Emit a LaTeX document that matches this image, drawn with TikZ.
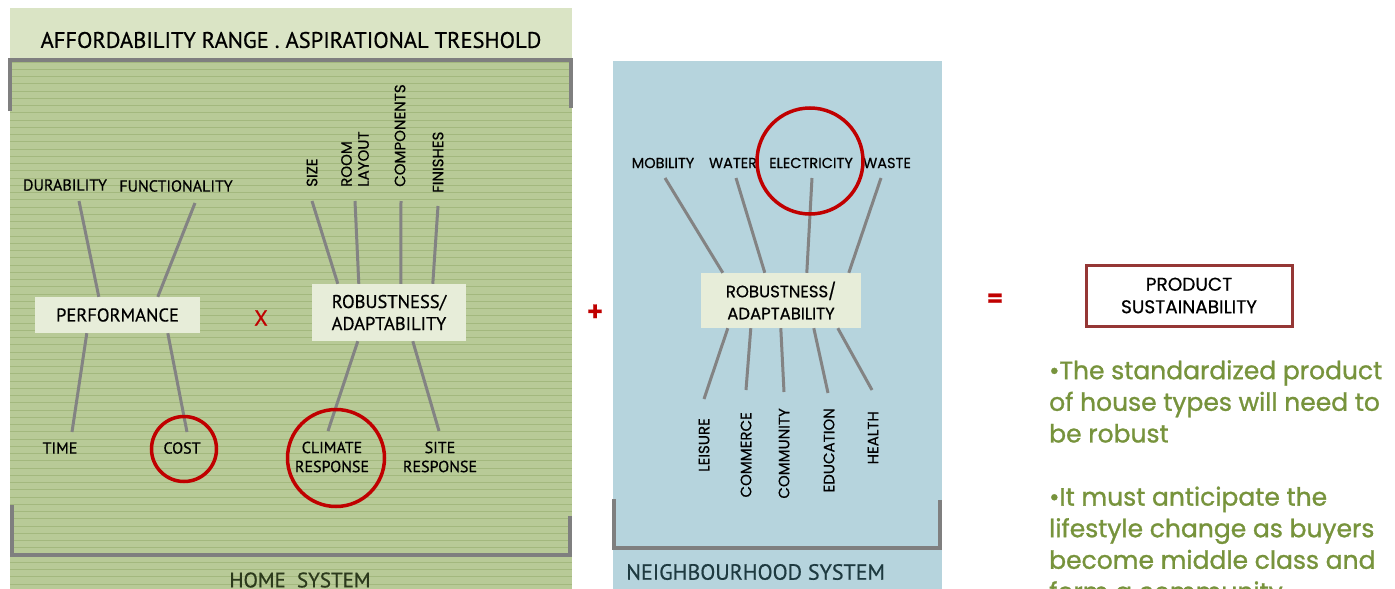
\documentclass[tikz,border=0pt]{standalone}
\usepackage{fontspec}
\setmainfont{PT Sans}[FakeBold=0.6]
\newfontfamily\geo{Poppins}[FakeBold=0.5]
\newfontfamily\geobold{Poppins}[FakeBold=1.1]
\usetikzlibrary{calc}
\definecolor{panelgreen}{HTML}{B8CA97}
\definecolor{headgreen}{HTML}{DAE4C5}
\definecolor{stripegreen}{HTML}{A3B87E}
\definecolor{boxfill}{HTML}{E7EDD9}
\definecolor{panelblue}{HTML}{B6D4DD}
\definecolor{bracketgray}{HTML}{7F7F7F}
\definecolor{linkgray}{HTML}{838383}
\definecolor{ringred}{HTML}{C00000}
\definecolor{noteolive}{HTML}{77933C}
\definecolor{prodborder}{HTML}{953735}
\definecolor{homeink}{HTML}{2C3A1C}
\definecolor{hoodink}{HTML}{1E3A40}
\begin{document}
\begin{tikzpicture}[x=1pt,y=-1pt,
  link/.style={draw=linkgray,line width=3pt},
  bracket/.style={draw=bracketgray,line width=4pt},
  ring/.style={draw=ringred,line width=3.5pt,circle,inner sep=0pt},
  lbl/.style={font=\fontsize{16}{16.5}\selectfont,inner sep=0pt,align=center},
  glbl/.style={font=\geo\fontsize{14.5}{15}\selectfont,inner sep=0pt},
  vlbl/.style={font=\geo\fontsize{15}{17}\selectfont,inner sep=0pt,rotate=90,align=left},
  factor/.style={fill=boxfill,inner sep=0pt,align=center},
  op/.style={text=ringred,inner sep=0pt,font=\fontsize{22}{22}\selectfont},
  bigop/.style={text=ringred,inner sep=0pt,font=\bfseries\fontsize{30}{30}\selectfont}
]
\useasboundingbox (0,0) rectangle (1395,589);

% panels
\fill[panelgreen] (10,58) rectangle (572,589);
\fill[headgreen] (10,8) rectangle (572,58);
\foreach \k in {0,...,72}
  \draw[stripegreen,line width=0.7pt] (10,{62+7.25*\k}) -- (572,{62+7.25*\k});
\fill[panelblue] (613,61) rectangle (942,589);

% brackets
\draw[bracket] (10,111) -- (10,60) -- (571,60) -- (571,108);
\draw[bracket] (12,505) -- (12,555) -- (570,555) -- (570,516);
\draw[bracket] (614,499) -- (614,548) -- (940,548) -- (940,500);

% titles
\node[inner sep=0pt,font=\fontsize{22.5}{22.5}\selectfont] (title) at (291,40) {AFFORDABILITY RANGE . ASPIRATIONAL TRESHOLD};
\node[inner sep=0pt,text=homeink,font=\fontsize{21}{21}\selectfont] (home) at (300,580) {HOME\ \ SYSTEM};
\node[inner sep=0pt,text=hoodink,font=\fontsize{22}{22}\selectfont,anchor=west] (hood) at (626,572) {NEIGHBOURHOOD SYSTEM};

% home system: performance
\node[factor,minimum width=165pt,minimum height=36pt,font=\fontsize{18.5}{19}\selectfont] (perf) at (117.5,315) {PERFORMANCE};
\node[lbl] (durab) at (65,185) {DURABILITY};
\node[lbl] (func) at (176,186) {FUNCTIONALITY};
\node[lbl] (time) at (60,448) {TIME};
\node[lbl] (cost) at (182,448) {COST};
\draw[link] ($(durab.center)+(14,16)$) -- ($(perf.north west)+(64,0)$);
\draw[link] ($(func.center)+(19,17)$) -- ($(perf.north west)+(123,0)$);
\draw[link] ($(perf.south west)+(52,0)$) -- ($(time.center)+(12,-16)$);
\draw[link] ($(perf.south west)+(133,0)$) -- ($(cost.center)+(5,-16)$);
\node[ring,minimum size=65pt] (costring) at (184,449) {};

\node[op] (times) at (261,318) {X};

% home system: robustness
\node[factor,minimum width=154pt,minimum height=57pt,font=\fontsize{18.5}{22}\selectfont] (robL) at (389,312.5) {ROBUSTNESS/\\ADAPTABILITY};
\node[vlbl,anchor=west] (size) at (312,187) {SIZE};
\node[vlbl,anchor=west] (room) at (355,187) {ROOM\\LAYOUT};
\node[vlbl,anchor=west] (comp) at (400,187) {COMPONENTS};
\node[vlbl,anchor=west] (fin) at (438,193) {FINISHES};
\draw[link] ($(size.west)+(0,14)$) -- ($(robL.north west)+(26,0)$);
\draw[link] ($(room.west)+(0,14)$) -- ($(robL.north west)+(47,0)$);
\draw[link] ($(comp.west)+(1,14)$) -- ($(robL.north west)+(89,0)$);
\draw[link] ($(fin.west)+(0,13)$) -- ($(robL.north west)+(121,0)$);
\node[lbl,font=\fontsize{16}{19}\selectfont] (climate) at (332,457) {CLIMATE\\RESPONSE};
\node[lbl,font=\fontsize{16}{19}\selectfont] (site) at (440,457) {SITE\\RESPONSE};
\draw[link] ($(robL.south west)+(46,0)$) -- ($(climate.center)+(-4,-26)$);
\draw[link] ($(robL.south west)+(101,0)$) -- ($(site.center)+(-1,-26)$);
\node[ring,minimum size=97pt] (climring) at (336,458) {};

\node[bigop] (plus) at (595,313) {+};

% neighbourhood system
\node[factor,minimum width=160pt,minimum height=55pt,font=\geo\fontsize{16.5}{22}\selectfont] (robR) at (781,300.5) {ROBUSTNESS/\\ADAPTABILITY};
\node[glbl] (mob) at (663,163) {MOBILITY};
\node[glbl] (water) at (733,163) {WATER};
\node[glbl] (elec) at (811,163) {ELECTRICITY};
\node[glbl] (waste) at (887,163) {WASTE};
\draw[link] ($(mob.center)+(2,15)$) -- ($(robR.north west)+(22,0)$);
\draw[link] ($(water.center)+(3,15)$) -- ($(robR.north west)+(64,0)$);
\draw[link] ($(elec.center)+(1,15)$) -- ($(robR.north west)+(106,0)$);
\draw[link] ($(waste.center)+(-6,15)$) -- ($(robR.north west)+(148,0)$);
\node[ring,minimum size=106pt] (elecring) at (810,161) {};

\node[vlbl,anchor=east] (leis) at (704,418) {LEISURE};
\node[vlbl,anchor=east] (comm) at (746,412) {COMMERCE};
\node[vlbl,anchor=east] (commu) at (784,408) {COMMUNITY};
\node[vlbl,anchor=east] (edu) at (829,408) {EDUCATION};
\node[vlbl,anchor=east] (health) at (873,411) {HEALTH};
\draw[link] ($(robR.south west)+(27,0)$) -- ($(leis.east)+(0,-19)$);
\draw[link] ($(robR.south west)+(50,0)$) -- ($(comm.east)+(0,-22)$);
\draw[link] ($(robR.south west)+(80,0)$) -- ($(commu.east)+(0,-16)$);
\draw[link] ($(robR.south west)+(113,0)$) -- ($(edu.east)+(-1,-15)$);
\draw[link] ($(robR.south west)+(137,0)$) -- ($(health.east)+(-1,-21)$);

% result
\node[bigop] (equals) at (995,301) {=};
\node[draw=prodborder,line width=3pt,fill=white,minimum width=206pt,minimum height=61pt,inner sep=0pt,align=center,font=\geo\fontsize{18.5}{22.5}\selectfont] (product) at (1189,295.5) {PRODUCT\\SUSTAINABILITY};
\node[anchor=north west,inner sep=0pt,align=left,text=noteolive,font=\geobold\fontsize{25}{31.6}\selectfont] (notes) at (1049,360)
  {•The standardized product\\of house types will need to\\be robust\\[31.6pt]•It must anticipate the\\lifestyle change as buyers\\become middle class and\\form a community};
\end{tikzpicture}
\end{document}
